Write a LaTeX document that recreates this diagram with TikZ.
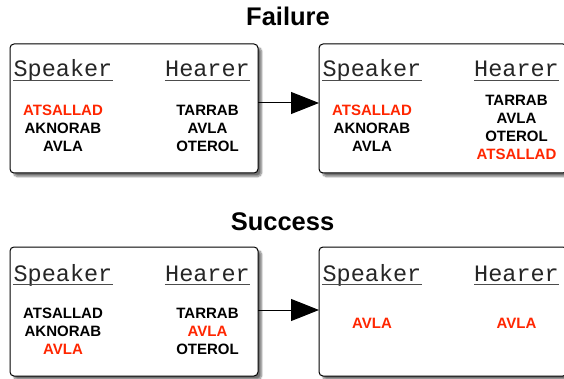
\documentclass[tikz,border=0pt]{standalone}
\usepackage{fontspec}
\usepackage{tikz}
\usetikzlibrary{arrows.meta,shadows.blur}
\newfontfamily\wordfont{Liberation Sans}
\newfontfamily\headfont{Liberation Mono}
\definecolor{wred}{RGB}{255,38,0}

\begin{document}
\begin{tikzpicture}[x=1pt,y=-1pt,
  agentbox/.style={draw,line width=1pt,rounded corners=4pt,fill=white,minimum width=248pt,minimum height=129pt,inner sep=0pt,
    blur shadow={shadow xshift=3.5pt,shadow yshift=-3.5pt,shadow blur steps=8,shadow opacity=55}},
  head/.style={font=\headfont\fontsize{23.5}{24}\selectfont,text=black!85,inner sep=0pt,anchor=base},
  words/.style={font=\wordfont\bfseries\fontsize{15}{18}\selectfont,align=center,inner sep=0pt},
  title/.style={font=\wordfont\bfseries\fontsize{25.5}{26}\selectfont,inner sep=0pt,anchor=base},
  uline/.style={draw=black!70,line width=0.9pt},
  arrow/.style={line width=1pt,-{Triangle[length=28pt,width=22pt]}}]

\clip (0,0) rectangle (564,379);

%Failure
\node[title] (tf) at (288,26) {Failure};
\node[agentbox] (f1) at (134,108.5) {};
\node[agentbox] (f2) at (443,108.5) {};
\coordinate (fa) at (258,103); \coordinate (fb) at (319,103);
\draw[arrow] (fa)--(fb);

\node[head] (fs1) at (63,77) {Speaker};\node[head] (fh1) at (207.5,77) {Hearer};
\node[head] (fs2) at (372,77) {Speaker};\node[head] (fh2) at (516.5,77) {Hearer};

\node[words] (fsw1) at (63,128) {\textcolor{wred}{ATSALLAD}\\AKNORAB\\AVLA};
\node[words] (fhw1) at (207.5,128) {TARRAB\\AVLA\\OTEROL};
\node[words] (fsw2) at (372,128) {\textcolor{wred}{ATSALLAD}\\AKNORAB\\AVLA};
\node[words] (fhw2) at (516.5,127) {TARRAB\\AVLA\\OTEROL\\\textcolor{wred}{ATSALLAD}};

%Success
\node[title] (ts) at (282.5,230.5) {Success};
\node[agentbox] (s1) at (134,311.5) {};
\node[agentbox] (s2) at (443,311.5) {};
\coordinate (sa) at (258,310); \coordinate (sb) at (319,310);
\draw[arrow] (sa)--(sb);

\node[head] (ss1) at (63,281) {Speaker};\node[head] (sh1) at (207.5,281) {Hearer};
\node[head] (ss2) at (372,281) {Speaker};\node[head] (sh2) at (516.5,281) {Hearer};

\node[words] (ssw1) at (63,331) {ATSALLAD\\AKNORAB\\\textcolor{wred}{AVLA}};
\node[words] (shw1) at (207.5,331) {TARRAB\\\textcolor{wred}{AVLA}\\OTEROL};
\node[words,text=wred] (ssw2) at (372,323.5) {AVLA};
\node[words,text=wred] (shw2) at (516.5,323.5) {AVLA};

%underlines
\foreach \h in {fs1,fh1,fs2,fh2,ss1,sh1,ss2,sh2}
  \draw[uline] ([yshift=-3pt]\h.base west)--([yshift=-3pt]\h.base east);

\end{tikzpicture}
\end{document}
